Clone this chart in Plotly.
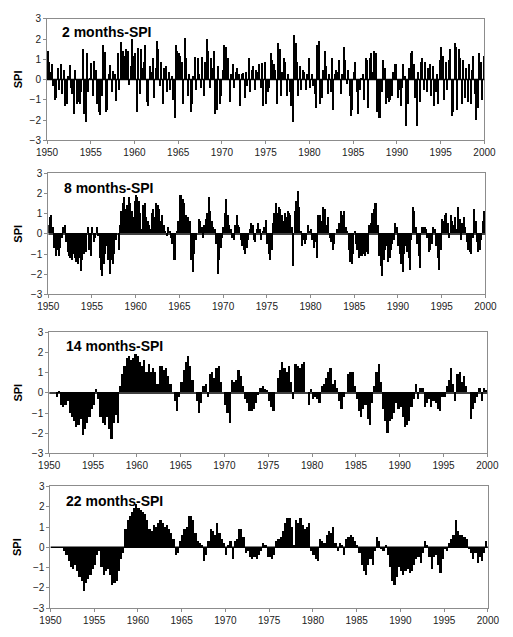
import plotly.graph_objects as go

# ---------------- data ----------------
start_year = 1950
end_year = 2000
titles = ["2 months-SPI", "8 months-SPI", "14 months-SPI", "22 months-SPI"]
tick_years = [1950, 1955, 1960, 1965, 1970, 1975, 1980, 1985, 1990, 1995, 2000]
spi_ticks = [-3, -2, -1, 0, 1, 2, 3]

# 2-month SPI, 6 values per year (bi-monthly), 1950..1999
spi2 = [
    1.4, 0.9, 0.4, 0.8, -0.3, -1.0,
    -0.9, 0.6, -0.5, 0.8, -0.7, 0.5,
    -1.3, -1.2, 0.2, 0.75, -0.4, -0.7,
    -1.7, 0.5, -1.2, -1.1, -1.2, -0.6,
    1.5, -1.7, -2.1, 1.3, -0.6, 0.1,
    0.85, -0.8, 0.95, 0.5, -1.2, -1.6,
    -1.75, -0.8, 1.7, 1.35, -1.6, -1.5,
    0.3, 0.75, -0.6, 0.45, 0.3, -1.05,
    1.3, -0.5, 1.85, 0.9, 1.4, 1.2,
    1.5, 1.4, -0.25, 0.7, 2.0, 1.2,
    1.3, -1.6, 1.55, -0.7, 1.5, 0.6,
    0.9, 1.7, -1.1, -1.3, 0.7, 0.4,
    1.1, -0.9, 0.6, 1.9, 1.5, -0.3,
    0.9, -1.2, 0.6, 0.7, -0.6, 0.4,
    -0.5, 0.2, -1.0, -1.9, 1.7, 1.4,
    1.3, 1.2, 0.9, -1.2, 2.05, 1.1,
    -0.8, 0.3, -1.6, -1.2, 0.2, 1.15,
    -0.5, 1.1, 0.3, -0.4, 1.15, -0.8,
    0.9, 2.0, 1.4, -0.4, 1.1, 0.6,
    1.4, -1.7, -1.5, 0.7, -1.2, -0.8,
    0.5, 1.7, 1.6, 0.3, 1.1, -1.1,
    0.3, 0.8, -0.4, 0.4, 0.6, 0.3,
    -1.3, 0.3, 0.35, -0.9, 0.4, -0.3,
    1.1, -0.6, 0.5, 0.7, -0.5, 0.5,
    0.4, 0.8, -0.4, 0.85, -1.3, 0.9,
    -1.2, -0.6, -0.4, 1.3, 1.0, 0.8,
    0.5, -1.2, 1.8, 1.5, -0.8, 0.4,
    1.1, 0.9, -0.8, 0.3, -0.6, -1.3,
    -2.1, 2.2, 1.8, 0.9, -0.8, 0.7,
    -0.5, 0.5, 0.4, -0.5, 0.3, 1.1,
    -0.4, 0.3, -0.3, -0.7, -1.4, 1.7,
    1.9, -1.2, -0.9, 0.5, 1.4, 0.7,
    -0.7, 0.3, -0.6, 1.1, -1.5, 0.3,
    0.5, 0.4, 1.0, -0.7, 0.3, 1.6,
    1.0, -0.2, 0.5, -0.8, -1.8, -1.5,
    0.4, 0.9, -0.6, -1.7, -0.5, 0.1,
    0.3, -1.0, 1.1, 1.0, -1.4, 1.1,
    1.3, 0.4, 1.4, 1.3, -1.6, -1.9,
    -1.9, -0.6, 1.0, 0.6, -1.2, -0.9,
    -1.1, -1.0, -0.8, 0.4, 0.8, 0.8,
    -0.9, -0.5, -1.3, -0.4, 0.8, 0.2,
    -2.3, -1.2, 0.6, 1.3, 1.4, 0.8,
    -0.9, -2.3, 0.4, -1.1, 0.9, 1.1,
    -0.5, 0.9, -0.6, 0.6, 0.8, -0.8,
    0.7, -1.3, -0.6, 0.3, -1.2, 1.0,
    1.6, 1.2, -1.0, 0.9, -0.5, 1.0,
    1.5, -1.8, -1.6, 1.8, 1.6, -1.5,
    1.5, 1.1, -1.2, 1.0, -0.9, 0.6,
    -1.1, 0.8, -1.2, 0.5, 1.2, -0.7,
    -2.0, -1.4, 1.3, 0.9, -1.0, 1.2,
]

# 8-month SPI, 6 values per year
spi8 = [
    0.4, 0.8, 0.9, 0.3, -0.7, -1.1,
    -0.8, -1.1, -0.7, -0.2, 0.3, 0.4,
    -0.4, -0.9, -1.1, -1.2, -1.3, -1.0,
    -1.2, -1.4, -1.5, -1.2, -1.85, -1.3,
    -1.0, -0.6, -0.9, 0.3, -0.8, -1.1,
    0.3, -0.4, -0.2, 0.3, -0.1, -1.2,
    -1.8, -2.1, -1.5, -1.0, -0.6, -1.3,
    -2.0, -1.3, -1.5, -1.0, -0.3, 0.0,
    -0.8, 0.4, 1.1, 1.5, 1.8, 1.2,
    1.4, 1.8, 1.5, 1.1, 0.8, 1.6,
    1.9, 1.8, 1.6, 1.0, 0.2, 1.4,
    1.5, 0.8, 0.6, 0.4, 0.2, 1.0,
    1.2, 0.8, 1.5, 1.4, 1.2, 0.6,
    0.9, 0.4, 0.1, -0.1, 0.3, 0.1,
    -0.2, -0.5, -1.3, -1.3, 0.1, 0.6,
    1.9, 1.9, 1.7, 1.5, 0.9, 0.7,
    0.8, 0.6, -1.3, -1.9, -1.0, -0.3,
    0.0, 0.7, 0.6, 0.3, -0.2, 0.4,
    0.7, 1.0, 1.8, 1.1, 0.6, 0.3,
    0.2, -0.5, -2.0, -1.3, -0.7, -0.2,
    0.3, 1.0, 1.7, 0.9, 0.4, 0.2,
    -0.2, -0.3, 0.4, 0.9, 0.4, 0.3,
    -0.3, -0.6, -0.8, -1.0, -0.7, -0.3,
    0.2, 0.5, 0.4, -0.3, -0.4, 0.2,
    0.5, 0.2, -0.3, 0.1, 0.3, 0.65,
    -0.5, -1.0, -1.3, -0.8, 0.5, 1.0,
    1.5, 1.0, 1.3, 1.2, 0.9, 0.6,
    1.0, 0.8, 1.1, 1.0, 0.9, 0.3,
    -1.6, 1.1, 1.6, 2.1, 1.3, 0.1,
    -0.6, -0.3, -0.5, -0.3, 0.4, 0.1,
    0.2, -0.3, -0.7, -0.4, -1.2, 0.9,
    0.9, 0.6, 1.3, 0.6, 1.2, 0.4,
    0.8, -0.2, -0.4, -0.8, -0.5, 0.0,
    0.2, 0.5, 0.3, 1.1, 0.9, 1.1,
    0.3, 0.1, -0.8, -1.4, -1.5, -1.0,
    0.1, -0.5, -0.8, -1.2, -1.1, -1.1,
    -1.0, -1.1, -0.9, -1.0, 0.4, 0.5,
    1.0, 1.2, 1.5, 1.5, 0.4, -1.1,
    -1.6, -2.1, -1.3, -0.8, -0.6, -1.4,
    -1.2, -0.8, -0.5, -0.3, 0.5, 0.3,
    -0.6, -1.0, -1.5, -1.9, -1.0, -0.6,
    -0.9, -1.2, -1.8, -0.3, 1.3, 1.1,
    0.3, -0.5, -1.1, -1.7, 0.3, 0.3,
    0.3, 0.2, -0.2, -0.9, -0.8, -0.5,
    0.3, 0.2, -0.6, -1.2, -1.8, -0.8,
    0.7, 0.6, 0.9, 1.0, 0.5, -0.2,
    0.9, 0.6, 0.4, 0.8, 0.2, 1.3,
    0.7, -0.3, 0.5, 0.8, 0.3, -0.4,
    -0.8, -0.9, -1.0, -0.2, 1.2, 0.6,
    -0.4, -0.9, -0.8, -0.3, 0.6, 1.1,
]

# 14-month SPI, 4 values per year (quarterly)
spi14 = [
    0.0, 0.0, 0.0, -0.2,
    0.05, -0.6, -0.7, -0.6,
    -0.4, -1.0, -1.2, -1.4,
    -1.7, -1.6, -1.3, -2.1,
    -1.8, -1.5, -1.2, -0.8,
    -0.6, 0.15, -0.3, -1.2,
    -1.5, -1.6, -1.2, -1.8,
    -2.3, -1.5, -1.1, -1.5,
    0.3, 0.9, 1.3, 1.7,
    1.8, 1.6, 1.7, 1.9,
    1.8, 1.5, 1.3, 1.6,
    1.0, 1.4, 1.0, 1.2,
    1.0, 0.4, 1.3, 1.3,
    1.1, 1.2, 0.8, 0.4,
    0.0, -0.4, -0.9, -0.2,
    0.5, 1.1, 1.5, 1.8,
    1.3, 0.6, 0.0, -0.4,
    -1.0, -0.5, 0.3, 0.4,
    -0.2, 0.9, 1.0, 0.7,
    1.2, 1.3, 0.5, 0.0,
    -0.6, -1.0, -1.5, 0.6,
    0.5, 0.6, 1.1, 0.8,
    0.3, -0.3, -0.5, -0.9,
    -0.9, -0.8, -0.5, -0.1,
    0.2, 0.3, 0.15, 0.1,
    -0.4, -0.7, -0.9, 0.0,
    0.7, 1.1, 1.5, 1.2,
    1.0, 1.3, 0.5, -0.3,
    1.4, 1.3, 1.2, 1.4,
    1.5, 0.0, -0.6, 0.15,
    -0.3, -0.2, -0.3, -0.5,
    0.3, 0.4, 0.7, 1.0,
    1.2, 0.4, 0.6, 0.2,
    -0.4, -0.8, -0.2, 0.0,
    0.9, 1.0, 1.0, 0.3,
    -0.3, -0.9, -1.2, -0.8,
    -0.6, -1.3, -1.6, -0.5,
    0.3, 1.0, 1.4, 0.5,
    -0.8, -1.4, -2.0, -1.4,
    -1.3, -1.0, -0.5, -0.8,
    -0.7, -1.2, -1.7, -1.6,
    -1.4, -0.7, -0.3, 0.4,
    -0.3, 0.2, 0.2, -0.7,
    -0.5, -0.3, -0.7, -0.4,
    -0.5, -0.8, -0.9, -0.2,
    -0.2, 0.3, 0.6, 1.2,
    0.4, -0.4, 0.9, 1.0,
    0.5, 0.8, 0.3, 0.0,
    -1.3, -0.8, -0.5, -0.2,
    0.2, -0.4, 0.2, 0.1,
]

# 22-month SPI, 4 values per year (quarterly)
spi22 = [
    0.0, 0.0, 0.0, 0.0,
    0.0, 0.0, -0.2, -0.4,
    -0.7, -1.0, -1.1, -0.9,
    -1.2, -1.5, -1.7, -2.2,
    -1.8, -1.6, -1.4, -1.1,
    -0.9, -0.4, -0.2, -1.0,
    -1.4, -1.2, -1.1, -1.4,
    -1.9, -1.8, -1.7, -1.2,
    -0.6, -0.3, 0.9, 1.3,
    1.5, 1.7, 1.9, 2.1,
    1.9, 1.8, 1.7, 1.6,
    1.3, 0.9, 0.8, 1.1,
    1.0, 1.2, 1.3, 1.2,
    1.0, 1.1, 0.9, 0.7,
    0.4, -0.4, -0.3, 0.3,
    0.6, 0.9, 1.0, 1.5,
    1.5, 1.3, 0.7, 0.3,
    0.2, 0.1, -0.7, -0.4,
    0.3, 0.9, 0.8, 0.6,
    1.2, 0.7, 0.4, 0.2,
    -0.4, 0.1, 0.3, -0.6,
    0.3, 0.4, 0.9, 0.9,
    0.5, -0.3, -0.2, -0.5,
    -0.6, -0.5, -0.6, -0.4,
    -0.2, 0.2, 0.1, -0.5,
    -0.5, -0.6, -0.4, 0.3,
    0.4, 0.5, 0.8, 1.2,
    1.4, 1.4, 1.0, 0.1,
    1.3, 1.2, 1.4, 1.1,
    0.9, 1.0, 1.2, -0.2,
    -0.4, -0.6, -0.7, 0.4,
    0.3, 0.2, 0.6, 0.8,
    0.7, 1.0, 0.2, -0.2,
    0.2, 0.1, -0.4, 0.4,
    0.5, 0.6, 0.5, 0.3,
    0.1, -0.3, -0.9, -1.2,
    -1.4, -0.9, -0.6, -0.9,
    -0.2, 0.5, 0.3, -0.1,
    -0.2, 0.1, -0.4, -1.0,
    -1.7, -1.9, -1.5, -1.0,
    -1.2, -1.4, -1.2, -1.1,
    -1.3, -1.2, -0.9, -0.6,
    -0.5, -0.8, -0.3, 0.3,
    0.1, -0.5, -1.1, -0.5,
    -0.4, -0.9, -1.3, -0.6,
    -0.1, -0.2, 0.2, 0.4,
    0.6, 1.3, 0.8, 0.6,
    0.6, 0.5, 0.4, -0.1,
    -0.3, -0.6, -0.3, -0.8,
    -0.5, -0.7, -0.3, 0.3,
]

series = [(spi2, 6), (spi8, 6), (spi14, 4), (spi22, 4)]

# ---------------- layout (pixel boxes of each panel) ----------------
W, H = 513, 637
boxes = [  # left, right, top, bottom in px
    (37.7, 495.7, 13.0, 137.0),
    (39.0, 496.7, 170.7, 294.0),
    (40.0, 498.7, 332.7, 456.0),
    (41.3, 499.3, 489.7, 613.7),
]
bar_widths = [0.13, 0.155, 0.25, 0.25]
title_pos = [(51.5, 26.5), (53.0, 185.0), (55.0, 346.5), (56.0, 504.0)]

fig = go.Figure()
FONT = "Liberation Sans, Arial, sans-serif"
FRAME = "#8c8c8c"

for k, ((vals, per_year), (l, r, t, b)) in enumerate(zip(series, boxes)):
    n = k + 1
    xa = "x" if n == 1 else f"x{n}"
    ya = "y" if n == 1 else f"y{n}"
    xs = [start_year + (i + 0.5) / per_year for i in range(len(vals))]
    fig.add_trace(go.Bar(x=xs, y=vals, xaxis=xa, yaxis=ya,
                         width=bar_widths[k],
                         marker=dict(color="black", line=dict(width=0)),
                         showlegend=False, hoverinfo="skip"))
    xkey = "xaxis" if n == 1 else f"xaxis{n}"
    ykey = "yaxis" if n == 1 else f"yaxis{n}"
    fig.layout[xkey] = dict(
        domain=[l / W, r / W], anchor=ya, range=[start_year, end_year],
        tickvals=tick_years, ticktext=[str(v) for v in tick_years],
        ticks="outside", ticklen=3, tickcolor=FRAME, showgrid=False,
        showline=True, linecolor=FRAME, linewidth=1, mirror=True,
        zeroline=False, tickfont=dict(family=FONT, size=10, color="#222"),
        fixedrange=True)
    fig.layout[ykey] = dict(
        domain=[1 - b / H, 1 - t / H], anchor=xa, range=[-3, 3],
        tickvals=spi_ticks, ticks="outside", ticklen=3, tickcolor=FRAME,
        showgrid=False, showline=True, linecolor=FRAME, linewidth=1,
        mirror=True, zeroline=False,
        tickfont=dict(family=FONT, size=10, color="#222"), fixedrange=True)
    # zero line
    fig.add_shape(type="line", xref=xa, yref=ya, x0=start_year, x1=end_year,
                  y0=0, y1=0, line=dict(color="black", width=1.5), layer="above")
    # panel title
    tx, ty = title_pos[k]
    fig.add_annotation(x=tx / W, y=1 - ty / H, xref="paper", yref="paper",
                       text=f"<b>{titles[k]}</b>", showarrow=False,
                       xanchor="left", yanchor="middle",
                       font=dict(family=FONT, size=14, color="black"))
    # y-axis title
    fig.add_annotation(x=7 / W, y=1 - ((t + b) / 2) / H, xref="paper", yref="paper",
                       text="<b>SPI</b>", showarrow=False, textangle=-90,
                       xanchor="center", yanchor="middle",
                       font=dict(family=FONT, size=11, color="black"))

fig.update_layout(width=W, height=H, margin=dict(l=0, r=0, t=0, b=0),
                  paper_bgcolor="white", plot_bgcolor="white",
                  bargap=0, barmode="overlay")

fig.write_html("out.html")
